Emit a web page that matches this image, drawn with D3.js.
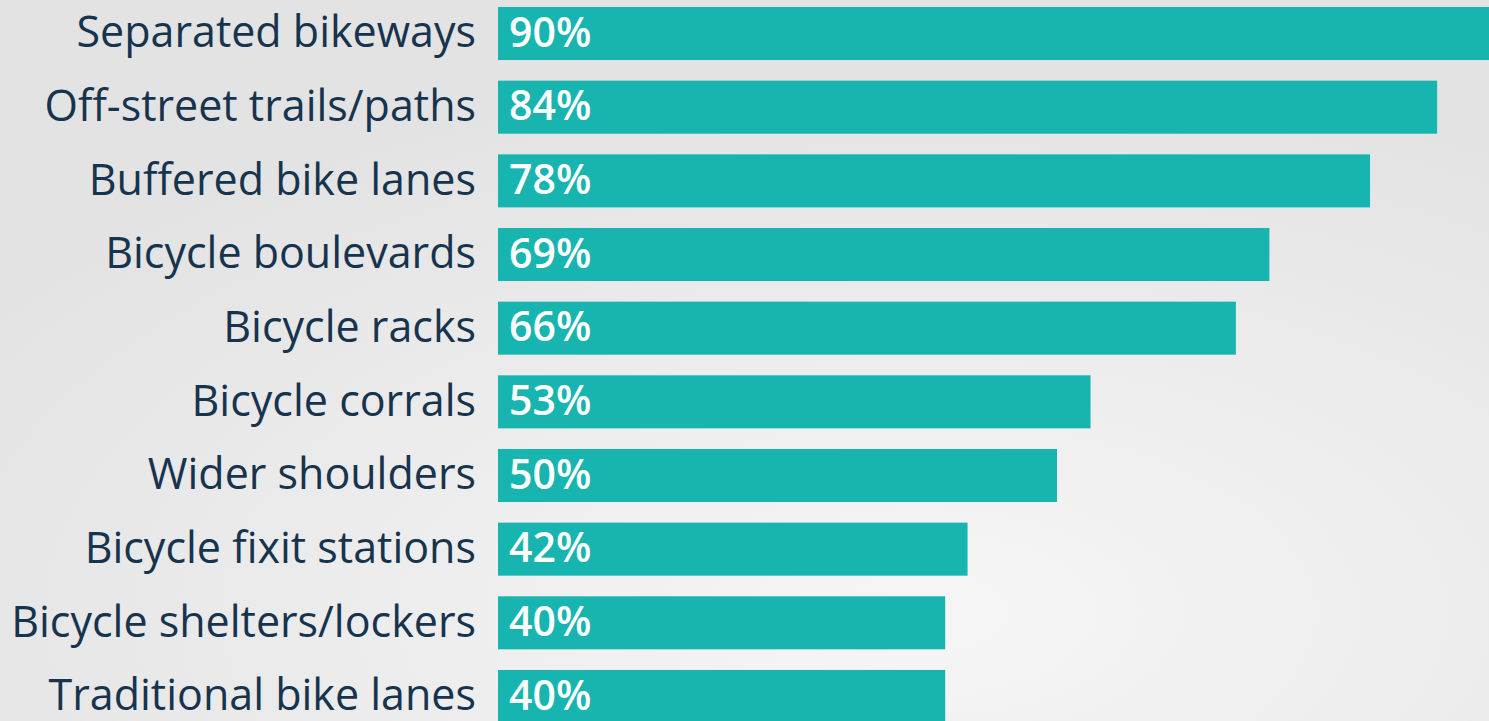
<!DOCTYPE html>
<html>
<head>
<meta charset="utf-8">
<script src="https://cdn.jsdelivr.net/npm/d3@7"></script>
<style>
  html, body { margin: 0; padding: 0; overflow: hidden; }
  svg { display: block; }
</style>
</head>
<body>
<script>
// chart data
var categories = ["Separated bikeways", "Off-street trails/paths", "Buffered bike lanes",
    "Bicycle boulevards", "Bicycle racks", "Bicycle corrals", "Wider shoulders",
    "Bicycle fixit stations", "Bicycle shelters/lockers", "Traditional bike lanes"];
var values = [90, 84, 78, 69, 66, 53, 50, 42, 40, 40];

var width = 1489,
    height = 721;

var svg = d3.select("body")
    .append("svg")
    .attr("width", width)
    .attr("height", height);

// soft grey background, lighter toward the lower middle
var grad = svg.append("defs").append("radialGradient")
    .attr("id", "bg")
    .attr("cx", "0.62").attr("cy", "0.85").attr("r", "0.75");
grad.append("stop").attr("offset", "0%").attr("stop-color", "#f6f6f6");
grad.append("stop").attr("offset", "100%").attr("stop-color", "#e3e3e3");

svg.append("rect")
    .attr("width", width)
    .attr("height", height)
    .attr("fill", "url(#bg)");

// x scale: 0% sits at the bar origin
var x = d3.scaleLinear()
    .domain([0, 100])
    .range([498, 1616]);

var y = d3.scaleBand()
    .domain(categories)
    .range([7, 723])
    .paddingInner(0.28)
    .paddingOuter(0);

var rows = svg.selectAll(".row")
    .data(categories)
    .enter()
    .append("g")
    .attr("class", "row");

rows.append("rect")
    .attr("x", x(0))
    .attr("y", function(d) { return y(d); })
    .attr("width", function(d, i) { return x(values[i]) - x(0); })
    .attr("height", y.bandwidth())
    .attr("fill", "#18b5b0");

// category labels
rows.append("text")
    .attr("x", 476)
    .attr("y", function(d) { return y(d) + y.bandwidth() / 2; })
    .attr("dy", "0.32em")
    .attr("text-anchor", "end")
    .style("font-family", "'Open Sans', 'Noto Sans', sans-serif")
    .style("font-size", "43px")
    .style("fill", "#17344f")
    .text(function(d) { return d; });

// value labels inside bars
rows.append("text")
    .attr("x", x(0) + 11)
    .attr("y", function(d) { return y(d) + y.bandwidth() / 2; })
    .attr("dy", "0.32em")
    .style("font-family", "'Open Sans', 'Noto Sans', sans-serif")
    .style("font-size", "41px")
    .style("font-weight", "600")
    .style("fill", "#ffffff")
    .text(function(d, i) { return values[i] + "%"; });
</script>
</body>
</html>
